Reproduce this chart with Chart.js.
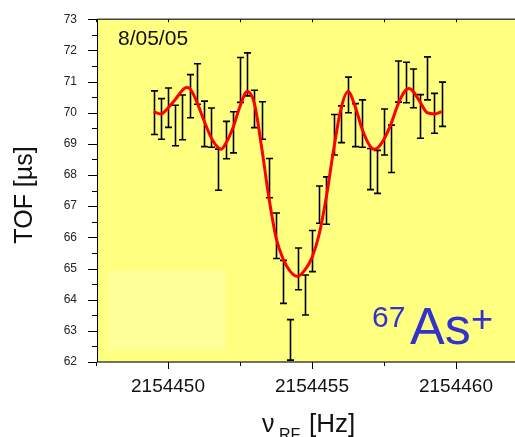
<!DOCTYPE html>
<html>
<head>
<meta charset="utf-8">
<script src="https://cdn.jsdelivr.net/npm/chart.js@4.4.0/dist/chart.umd.min.js"></script>
<style>
  html, body { margin: 0; padding: 0; background: #fff; }
  #wrap { width: 515px; height: 437px; }
</style>
</head>
<body>
<div id="wrap"><canvas id="tofChart" width="515" height="437"></canvas></div>
<script>
// measured points: RF frequency [Hz], TOF [us], error [us]
const FREQ = [
  2154449.5, 2154449.75, 2154450.0, 2154450.25, 2154450.5, 2154450.75, 2154451.0, 2154451.25,
  2154451.5, 2154451.75, 2154452.0, 2154452.25, 2154452.5, 2154452.75, 2154453.0, 2154453.25,
  2154453.5, 2154453.75, 2154454.0, 2154454.25, 2154454.5, 2154454.75, 2154455.0, 2154455.25,
  2154455.5, 2154455.75, 2154456.0, 2154456.25, 2154456.5, 2154456.75, 2154457.0, 2154457.25,
  2154457.5, 2154457.75, 2154458.0, 2154458.25, 2154458.5, 2154458.75, 2154459.0, 2154459.25,
  2154459.5
];
const TOF = [
  70.0, 69.8, 70.16, 69.59, 69.85, 70.53, 70.92, 69.64,
  69.52, 68.17, 69.12, 69.37, 71.05, 71.23, 70.12, 69.75,
  67.9, 66.05, 64.57, 62.71, 64.99, 64.15, 65.56, 67.05,
  67.18, 69.29, 69.63, 70.57, 69.6, 69.65, 68.19, 68.1,
  69.38, 68.84, 71.0, 70.97, 70.78, 69.88, 71.1, 69.98,
  70.27
];
const ERR = [
  0.70, 0.65, 0.63, 0.65, 0.72, 0.69, 0.65, 0.73,
  0.63, 0.66, 0.60, 0.66, 0.72, 0.69, 0.60, 0.60,
  0.63, 0.73, 0.69, 0.65, 0.67, 0.64, 0.66, 0.60,
  0.76, 0.65, 0.59, 0.57, 0.69, 0.76, 0.66, 0.69,
  0.74, 0.76, 0.66, 0.65, 0.62, 0.70, 0.69, 0.64,
  0.71
];

// fit curve
const FIT_X = [
  2154449.5, 2154449.75, 2154450.0, 2154450.25, 2154450.5, 2154450.625, 2154450.75, 2154451.0,
  2154451.25, 2154451.5, 2154451.75, 2154451.85, 2154452.0, 2154452.25, 2154452.5, 2154452.75,
  2154453.0, 2154453.25, 2154453.5, 2154453.75, 2154454.0, 2154454.25, 2154454.5, 2154454.75,
  2154455.0, 2154455.25, 2154455.5, 2154455.75, 2154456.0, 2154456.25, 2154456.5, 2154456.75,
  2154457.0, 2154457.15, 2154457.25, 2154457.5, 2154457.75, 2154458.0, 2154458.25, 2154458.375,
  2154458.5, 2154458.75, 2154459.0, 2154459.25, 2154459.5
];
const FIT_Y = [
  70.03, 69.96, 70.15, 70.42, 70.72, 70.81, 70.78, 70.35,
  69.75, 69.2, 68.87, 68.83, 69.0, 69.5, 70.2, 70.68,
  70.3, 68.9, 67.3, 66.0, 65.3, 64.9, 64.75, 64.95,
  65.35, 66.1, 67.3, 68.8, 70.1, 70.68, 70.2, 69.45,
  68.95, 68.83, 68.85, 69.15, 69.65, 70.3, 70.72, 70.78,
  70.7, 70.35, 70.0, 69.96, 70.03
];

const X_TICKS = [2154450, 2154455, 2154460];
const X_MINOR = [2154447.5, 2154452.5, 2154457.5];
const Y_MIN = 62, Y_MAX = 73;
const X_MIN = 2154447.535, X_MAX = 2154462.05;

const FONT = "'Liberation Sans', Arial, sans-serif";

const framePlugin = {
  id: "frame",
  beforeDraw(chart) {
    const { ctx, chartArea: a, scales } = chart;
    ctx.save();
    ctx.fillStyle = "#ffff80";
    ctx.fillRect(a.left, a.top, a.right - a.left, a.bottom - a.top);
    // pale legend box
    const x0 = scales.x.getPixelForValue(2154447.9);
    const x1 = scales.x.getPixelForValue(2154452.0);
    const y0 = scales.y.getPixelForValue(64.94);
    const y1 = scales.y.getPixelForValue(62.36);
    ctx.fillStyle = "#ffff99";
    ctx.fillRect(x0, y0, x1 - x0, y1 - y0);
    ctx.restore();
  },
  beforeDatasetsDraw(chart) {
    // error bars under the fit line
    const { ctx, scales } = chart;
    ctx.save();
    ctx.strokeStyle = "#000";
    ctx.lineWidth = 1.6;
    ctx.beginPath();
    FREQ.forEach((f, i) => {
      const x = Math.round(scales.x.getPixelForValue(f)) + 0.5;
      const yt = scales.y.getPixelForValue(TOF[i] + ERR[i]);
      const yb = scales.y.getPixelForValue(TOF[i] - ERR[i]);
      ctx.moveTo(x, yt); ctx.lineTo(x, yb);
      ctx.moveTo(x - 3.5, yt); ctx.lineTo(x + 3.5, yt);
      ctx.moveTo(x - 3.5, yb); ctx.lineTo(x + 3.5, yb);
    });
    ctx.stroke();
    ctx.restore();
  },
  afterDraw(chart) {
    const { ctx, chartArea: a, scales } = chart;
    ctx.save();
    // axis lines
    ctx.strokeStyle = "#444";
    ctx.lineWidth = 1.5;
    ctx.beginPath();
    ctx.moveTo(a.left, a.top); ctx.lineTo(a.right, a.top);
    ctx.moveTo(a.left, a.bottom); ctx.lineTo(a.right, a.bottom);
    ctx.stroke();
    ctx.strokeStyle = "#000";
    ctx.lineWidth = 1;
    ctx.beginPath();
    ctx.moveTo(a.left + 0.5, a.top); ctx.lineTo(a.left + 0.5, a.bottom);
    // y ticks
    for (let v = Y_MIN; v <= Y_MAX + 0.001; v += 0.5) {
      const y = Math.round(scales.y.getPixelForValue(v)) + 0.5;
      const len = Number.isInteger(v) ? 9 : 5;
      ctx.moveTo(a.left - len, y); ctx.lineTo(a.left, y);
    }
    // x ticks (bottom outward, top inward)
    X_TICKS.concat(X_MINOR).forEach(v => {
      const x = Math.round(scales.x.getPixelForValue(v)) + 0.5;
      const len = X_TICKS.includes(v) ? 7 : 4;
      ctx.moveTo(x, a.bottom); ctx.lineTo(x, a.bottom + len);
      ctx.moveTo(x, a.top); ctx.lineTo(x, a.top + 3);
    });
    ctx.stroke();

    // texts
    ctx.fillStyle = "#111";
    ctx.textBaseline = "alphabetic";
    ctx.textAlign = "left";
    ctx.font = "21px " + FONT;
    ctx.fillText("8/05/05", 118, 45);

    ctx.fillStyle = "#3333cc";
    ctx.font = "30px " + FONT;
    ctx.fillText("67", 372, 327);
    ctx.font = "52px " + FONT;
    ctx.fillText("As", 410, 344);
    ctx.font = "38px " + FONT;
    ctx.fillText("+", 471, 332);

    ctx.fillStyle = "#111";
    ctx.font = "25px " + FONT;
    ctx.fillText("\u03bd", 262, 431.5);
    ctx.font = "16px " + FONT;
    ctx.fillText("RF", 279, 440);
    ctx.font = "26px " + FONT;
    ctx.fillText("[Hz]", 309, 431.5);

    ctx.translate(32, 195);
    ctx.rotate(-Math.PI / 2);
    ctx.textAlign = "center";
    ctx.font = "25px " + FONT;
    ctx.fillText("TOF [\u00b5s]", 0, 0);
    ctx.restore();
  }
};

new Chart(document.getElementById("tofChart").getContext("2d"), {
  type: "scatter",
  data: {
    datasets: [
      {
        label: "TOF",
        data: FREQ.map((f, i) => ({ x: f, y: TOF[i] })),
        pointRadius: 0,
        showLine: false
      },
      {
        label: "fit",
        data: FIT_X.map((f, i) => ({ x: f, y: FIT_Y[i] })),
        showLine: true,
        borderColor: "#ff0000",
        borderWidth: 3,
        pointRadius: 0,
        cubicInterpolationMode: "monotone"
      }
    ]
  },
  options: {
    responsive: false,
    animation: false,
    devicePixelRatio: 1,
    layout: { padding: { top: 14, right: 0, left: 0, bottom: 0 } },
    plugins: { legend: { display: false }, tooltip: { enabled: false } },
    scales: {
      x: {
        type: "linear",
        min: X_MIN,
        max: X_MAX,
        grid: { display: false },
        border: { display: false },
        afterBuildTicks: s => { s.ticks = X_TICKS.map(v => ({ value: v })); },
        afterFit: s => { s.height = 75; },
        ticks: {
          padding: 5,
          maxRotation: 0,
          color: "#111",
          font: { family: FONT, size: 19 },
          callback: v => String(v)
        }
      },
      y: {
        min: Y_MIN,
        max: Y_MAX,
        grid: { display: false },
        border: { display: false },
        afterFit: s => { s.width = 97; },
        ticks: {
          stepSize: 1,
          padding: 12,
          color: "#222",
          font: { family: FONT, size: 12 }
        }
      }
    }
  },
  plugins: [framePlugin]
});
</script>
</body>
</html>
